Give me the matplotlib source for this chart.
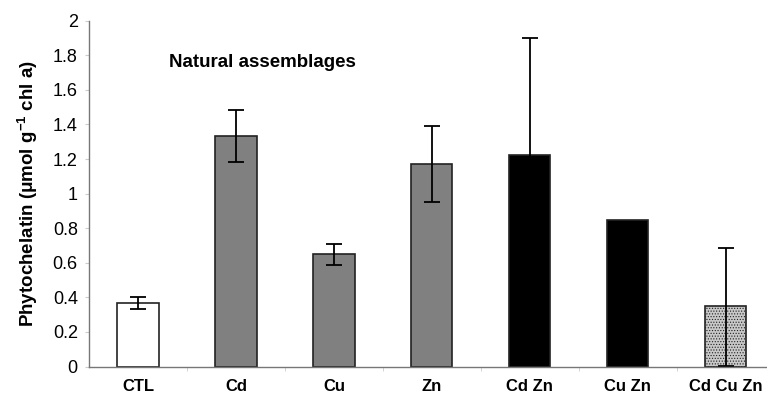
import matplotlib.pyplot as plt
import numpy as np

plt.rcParams['font.family'] = ['Liberation Sans', 'DejaVu Sans']
plt.rcParams['mathtext.fontset'] = 'custom'
plt.rcParams['mathtext.rm'] = 'Liberation Sans'
plt.rcParams['mathtext.bf'] = 'Liberation Sans:bold'
plt.rcParams['hatch.color'] = '#a0a0a0'
plt.rcParams['hatch.linewidth'] = 0.5

categories = ['CTL', 'Cd', 'Cu', 'Zn', 'Cd Zn', 'Cu Zn', 'Cd Cu Zn']
values = [0.37, 1.335, 0.65, 1.17, 1.225, 0.845, 0.35]
err_up = [0.035, 0.15, 0.06, 0.22, 0.675, 0.0, 0.335]
err_low = [0.035, 0.15, 0.06, 0.22, 0.675, 0.0, 0.344]
colors = ['white', '#808080', '#808080', '#808080', 'black', 'black', '#c8c8c8']

fig = plt.figure(figsize=(7.67, 3.98), dpi=100)
ax = fig.add_axes([0.116, 0.079, 0.884, 0.869])

x = np.arange(len(categories))
bars = ax.bar(x, values, width=0.42, color=colors, edgecolor='#222222', linewidth=1.2, zorder=2)
bars[-1].set_hatch('......')

# Cu Zn has no error bar
has_err = np.array(err_up) > 0
ax.errorbar(x[has_err], np.array(values)[has_err],
            yerr=[np.array(err_low)[has_err], np.array(err_up)[has_err]],
            fmt='none', ecolor='black', elinewidth=1.3, capsize=6, capthick=1.3, zorder=5)

ax.set_xlim(-0.5, 6.42)
ax.set_ylim(0, 2)
ax.set_yticks(np.arange(0, 2.01, 0.2))
ax.set_yticklabels(['0', '0.2', '0.4', '0.6', '0.8', '1', '1.2', '1.4', '1.6', '1.8', '2'], fontsize=13)
ax.set_xticks(x)
ax.set_xticklabels(categories, fontsize=12, fontweight='bold')
ax.set_xticks(np.arange(0.5, 6.5, 1), minor=True)
ax.tick_params(axis='x', which='major', length=0, pad=9)
ax.tick_params(axis='x', which='minor', length=3, color='#cccccc', direction='out')
ax.tick_params(axis='y', length=3, color='#cccccc', direction='out', pad=5)

for s in ['top', 'right']:
    ax.spines[s].set_visible(False)
for s in ['left', 'bottom']:
    ax.spines[s].set_color('#777777')
    ax.spines[s].set_linewidth(1.0)
    ax.spines[s].set_zorder(6)

ax.set_ylabel('Phytochelatin (\u03bcmol g$^{\\mathbf{-1}}$ chl a)', fontsize=13.5,
              fontweight='bold', labelpad=9)
ax.text(1.27, 1.76, 'Natural assemblages', fontsize=13.5, fontweight='bold', ha='center', va='center')

fig.savefig('out.png', dpi=100)
